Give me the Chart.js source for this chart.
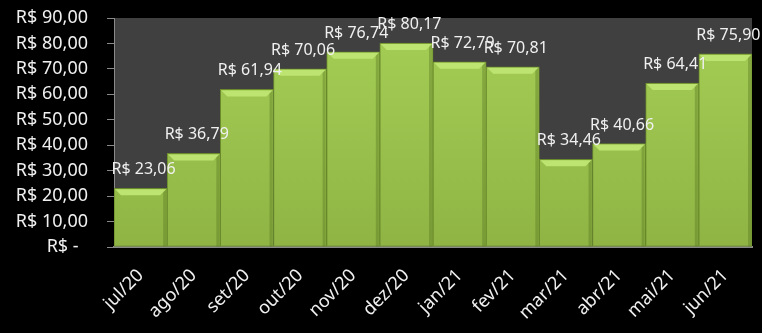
<!DOCTYPE html>
<html>
<head>
<meta charset="utf-8">
<script src="https://cdn.jsdelivr.net/npm/chart.js@4"></script>
<style>
  html, body { margin: 0; padding: 0; background: #000; }
  #wrap { width: 762px; height: 333px; }
</style>
</head>
<body>
<div id="wrap"><canvas id="chart"></canvas></div>
<script>
var months = ['jul/20', 'ago/20', 'set/20', 'out/20', 'nov/20', 'dez/20',
              'jan/21', 'fev/21', 'mar/21', 'abr/21', 'mai/21', 'jun/21'];
var values = [23.06, 36.79, 61.94, 70.06, 76.74, 80.17,
              72.79, 70.81, 34.46, 40.66, 64.41, 75.90];
var yMin = 0;
var yMax = 90;
var yStep = 10;

function brl(v) {
  if (v === 0) return 'R$ -\u00a0\u00a0';
  return 'R$ ' + v.toFixed(2).replace('.', ',');
}

// dark plot area behind the bars
var plotBg = {
  id: 'plotBg',
  beforeDraw: function (chart) {
    var a = chart.chartArea;
    var ctx = chart.ctx;
    ctx.save();
    ctx.fillStyle = '#404040';
    ctx.fillRect(a.left, a.top, a.right - a.left, a.bottom - a.top);
    ctx.restore();
  }
};

// bevel highlight on the bar tops + value labels
var barExtras = {
  id: 'barExtras',
  afterDatasetsDraw: function (chart) {
    var ctx = chart.ctx;
    var meta = chart.getDatasetMeta(0);
    ctx.save();
    meta.data.forEach(function (bar, i) {
      var l = bar.x - bar.width / 2 + 1;
      var r = bar.x + bar.width / 2 - 1;
      var t = bar.y + 1;
      var b = 6;
      ctx.fillStyle = '#bde470';
      ctx.beginPath();
      ctx.moveTo(l, t);
      ctx.lineTo(r, t);
      ctx.lineTo(r - b, t + b);
      ctx.lineTo(l + b, t + b);
      ctx.closePath();
      ctx.fill();
      ctx.fillStyle = 'rgba(80,110,30,0.35)';
      ctx.beginPath();
      ctx.moveTo(r, t);
      ctx.lineTo(r, bar.base);
      ctx.lineTo(r - 3, bar.base);
      ctx.lineTo(r - 3, t + 3);
      ctx.closePath();
      ctx.fill();
    });
    ctx.font = '16px "Noto Sans"';
    ctx.fillStyle = '#f0f0f0';
    ctx.textAlign = 'center';
    ctx.textBaseline = 'alphabetic';
    meta.data.forEach(function (bar, i) {
      ctx.fillText(brl(values[i]), bar.x + 3, bar.y - 14);
    });
    ctx.restore();
  }
};

new Chart(document.getElementById('chart'), {
  type: 'bar',
  data: {
    labels: months,
    datasets: [{
      data: values,
      backgroundColor: function (c) {
        var a = c.chart.chartArea;
        if (!a) return '#9bc34c';
        var g = c.chart.ctx.createLinearGradient(0, a.top, 0, a.bottom);
        g.addColorStop(0, '#a5cf56');
        g.addColorStop(1, '#8fb444');
        return g;
      },
      borderColor: '#6a8a2b',
      borderWidth: 1,
      borderSkipped: false,
      barPercentage: 1,
      categoryPercentage: 1
    }]
  },
  options: {
    responsive: true,
    maintainAspectRatio: false,
    animation: false,
    layout: { padding: { top: 18, right: 10, left: 0, bottom: 0 } },
    plugins: {
      legend: { display: false },
      tooltip: { enabled: false }
    },
    scales: {
      x: {
        grid: { display: false },
        border: { display: true, color: '#8a8a8a', width: 2 },
        ticks: {
          color: '#f0f0f0',
          font: { family: 'Noto Sans', size: 18 },
          maxRotation: 45,
          minRotation: 45,
          autoSkip: false,
          padding: 10
        },
        afterFit: function (s) {
          s.height = 86;
          s.paddingLeft = 0;
          s.paddingRight = 0;
        }
      },
      y: {
        min: yMin,
        max: yMax,
        grid: {
          drawOnChartArea: false,
          drawTicks: true,
          tickLength: 7,
          color: '#8a8a8a',
          lineWidth: 1
        },
        border: { display: true, color: '#8a8a8a', width: 1 },
        ticks: {
          stepSize: yStep,
          autoSkip: false,
          color: '#f0f0f0',
          font: { family: 'Noto Sans', size: 18 },
          padding: 19,
          callback: function (v) { return brl(v); }
        },
        afterFit: function (s) {
          s.width = 114;
          s.paddingTop = 0;
          s.paddingBottom = 0;
        }
      }
    }
  },
  plugins: [plotBg, barExtras]
});
</script>
</body>
</html>
